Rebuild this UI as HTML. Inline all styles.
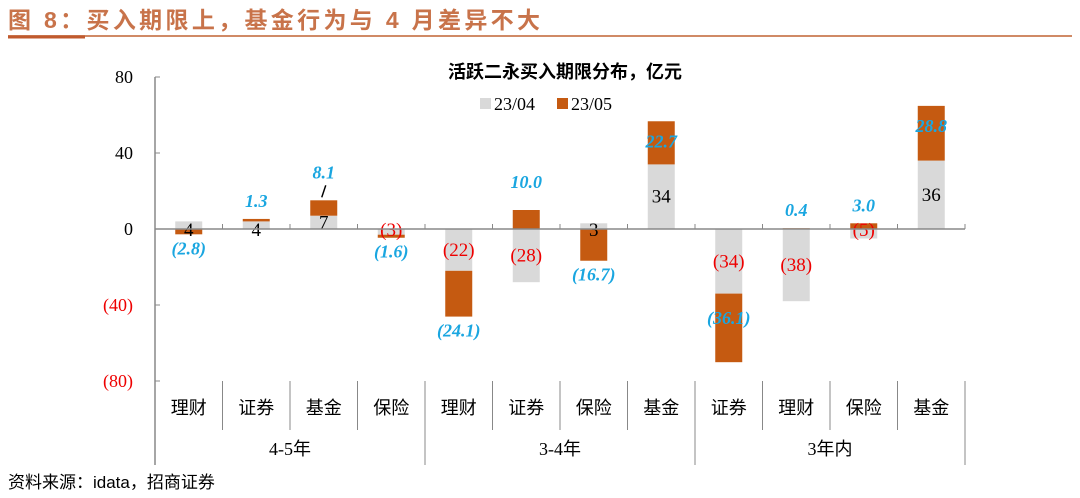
<!DOCTYPE html>
<html><head><meta charset="utf-8">
<style>
body{margin:0;width:1080px;height:498px;background:#fff;overflow:hidden;font-family:"Liberation Serif","Noto Serif CJK SC",serif;}
svg{position:absolute;left:0;top:0}
</style></head>
<body>
<svg id="c" width="1080" height="498">
  <text x="8" y="28" textLength="532" lengthAdjust="spacing" font-family="'Liberation Sans','Noto Sans CJK SC',sans-serif" font-size="23" font-weight="bold" fill="#c8734a">图 8：买入期限上，基金行为与 4 月差异不大</text>
  <line x1="8" y1="36" x2="1072" y2="36" stroke="#d08a66" stroke-width="2"/>
  <line x1="8" y1="37" x2="85" y2="37" stroke="#c05a2e" stroke-width="3"/>
  <text x="565" y="78" text-anchor="middle" font-family="'Liberation Sans','Noto Sans CJK SC',sans-serif" font-size="18" font-weight="bold" fill="#000">活跃二永买入期限分布，亿元</text>
  <rect x="480" y="98" width="11" height="11" fill="#d9d9d9"/>
  <text x="494" y="110" font-size="18">23/04</text>
  <rect x="557" y="98" width="11" height="11" fill="#c55a11"/>
  <text x="571" y="110" font-size="18">23/05</text>
  <text x="8" y="488" font-family="'Liberation Sans','Noto Sans CJK SC',sans-serif" font-size="17" fill="#000">资料来源：idata，招商证券</text>
  <g id="plot"></g>
</svg>
<script>
const categories=["理财","证券","基金","保险","理财","证券","保险","基金","证券","理财","保险","基金"];
const groups=["4-5年","3-4年","3年内"];
const groupSizes=[4,4,4];
const apr=[4,4,7,-3,-22,-28,3,34,-34,-38,-5,36];
const mayChg=[-2.8,1.3,8.1,-1.6,-24.1,10.0,-16.7,22.7,-36.1,0.4,3.0,28.8];
const yTicks=[80,40,0,-40,-80];

const NS="http://www.w3.org/2000/svg";
const g=document.getElementById('plot');
const X0=155,X1=965,Y0=229,PX=1.9;
const cw=(X1-X0)/categories.length,bw=27;
const y=v=>Y0-v*PX;
const xc=i=>X0+cw*(i+0.5);
function mk(t,a){const e=document.createElementNS(NS,t);for(const k in a)e.setAttribute(k,a[k]);g.appendChild(e);return e;}
const fmt=v=>v<0?"("+Math.abs(v)+")":String(v);
const fmt1=v=>v<0?"("+Math.abs(v).toFixed(1)+")":v.toFixed(1);

let ax=mk('line',{x1:X0,y1:y(80),x2:X0,y2:y(-80)+84,stroke:'#888','stroke-width':1.5});

yTicks.forEach(t=>{
  let l=mk('line',{x1:X0,y1:y(t),x2:X0+5,y2:y(t),stroke:'#888'});
  
  let tx=mk('text',{x:X0-22,y:y(t)+6,'text-anchor':'end','font-size':18,fill:t<0?'#e00':'#000'});
  tx.textContent=fmt(t);
  
});
categories.forEach((c,i)=>{
  const cx=xc(i),a=apr[i],m=mayChg[i];
  let gb=mk('rect',{x:cx-bw/2,y:Math.min(y(0),y(a)),width:bw,height:Math.abs(a)*PX,fill:'#d9d9d9'});
  
  const base=(Math.sign(m)===Math.sign(a))?a:0;
  const end=base+m;
  let ob=mk('rect',{x:cx-bw/2,y:Math.min(y(base),y(end)),width:bw,height:Math.abs(m)*PX,fill:'#c55a11'});
  
  let gy=y(a/2)+6; if(Math.abs(a)<6) gy=Y0+7;
  let gl=mk('text',{x:cx,y:gy,'text-anchor':'middle','font-size':19,fill:a<0?'#e00':'#000'});
  gl.textContent=fmt(a);
  
  let ly;
  if(Math.abs(end)>50) ly=y(end)+(end>0?26:-38);
  else if(end>=0) ly=y(end)-(m>5?22:12);
  else ly=y(end)+20;
  let ol=mk('text',{x:cx,y:ly,'text-anchor':'middle','font-size':18,'font-weight':'bold','font-style':'italic',fill:'#1aa6e0'});
  ol.textContent=fmt1(m);
  
  let t=mk('line',{x1:X0+cw*(i+1),y1:Y0,x2:X0+cw*(i+1),y2:Y0-5,stroke:'#888'});
  
  let cl=mk('text',{x:cx,y:414,'text-anchor':'middle','font-size':18,'font-family':"'Liberation Sans','Noto Sans CJK SC',sans-serif"});
  cl.textContent=c;
  
  let sp=mk('line',{x1:X0+cw*(i+1),y1:y(-80),x2:X0+cw*(i+1),y2:430,stroke:'#888'});
  
});
let za=mk('line',{x1:X0,y1:Y0,x2:X1,y2:Y0,stroke:'#888','stroke-width':1.5});

let ld=mk('line',{x1:xc(2)-2,y1:y(15.1)-3,x2:xc(2)+2,y2:y(15.1)-15,stroke:'#000','stroke-width':1.5});

let s=0;
groups.forEach((gn,k)=>{
  const e=s+groupSizes[k];
  let gl=mk('text',{x:(X0+cw*s+X0+cw*e)/2,y:455,'text-anchor':'middle','font-size':18,'font-family':"'Liberation Serif','Noto Sans CJK SC',serif"});
  gl.textContent=gn;
  
  let sl=mk('line',{x1:X0+cw*e,y1:y(-80),x2:X0+cw*e,y2:465,stroke:'#888'});
  
  s=e;
});
</script>
</body></html>
